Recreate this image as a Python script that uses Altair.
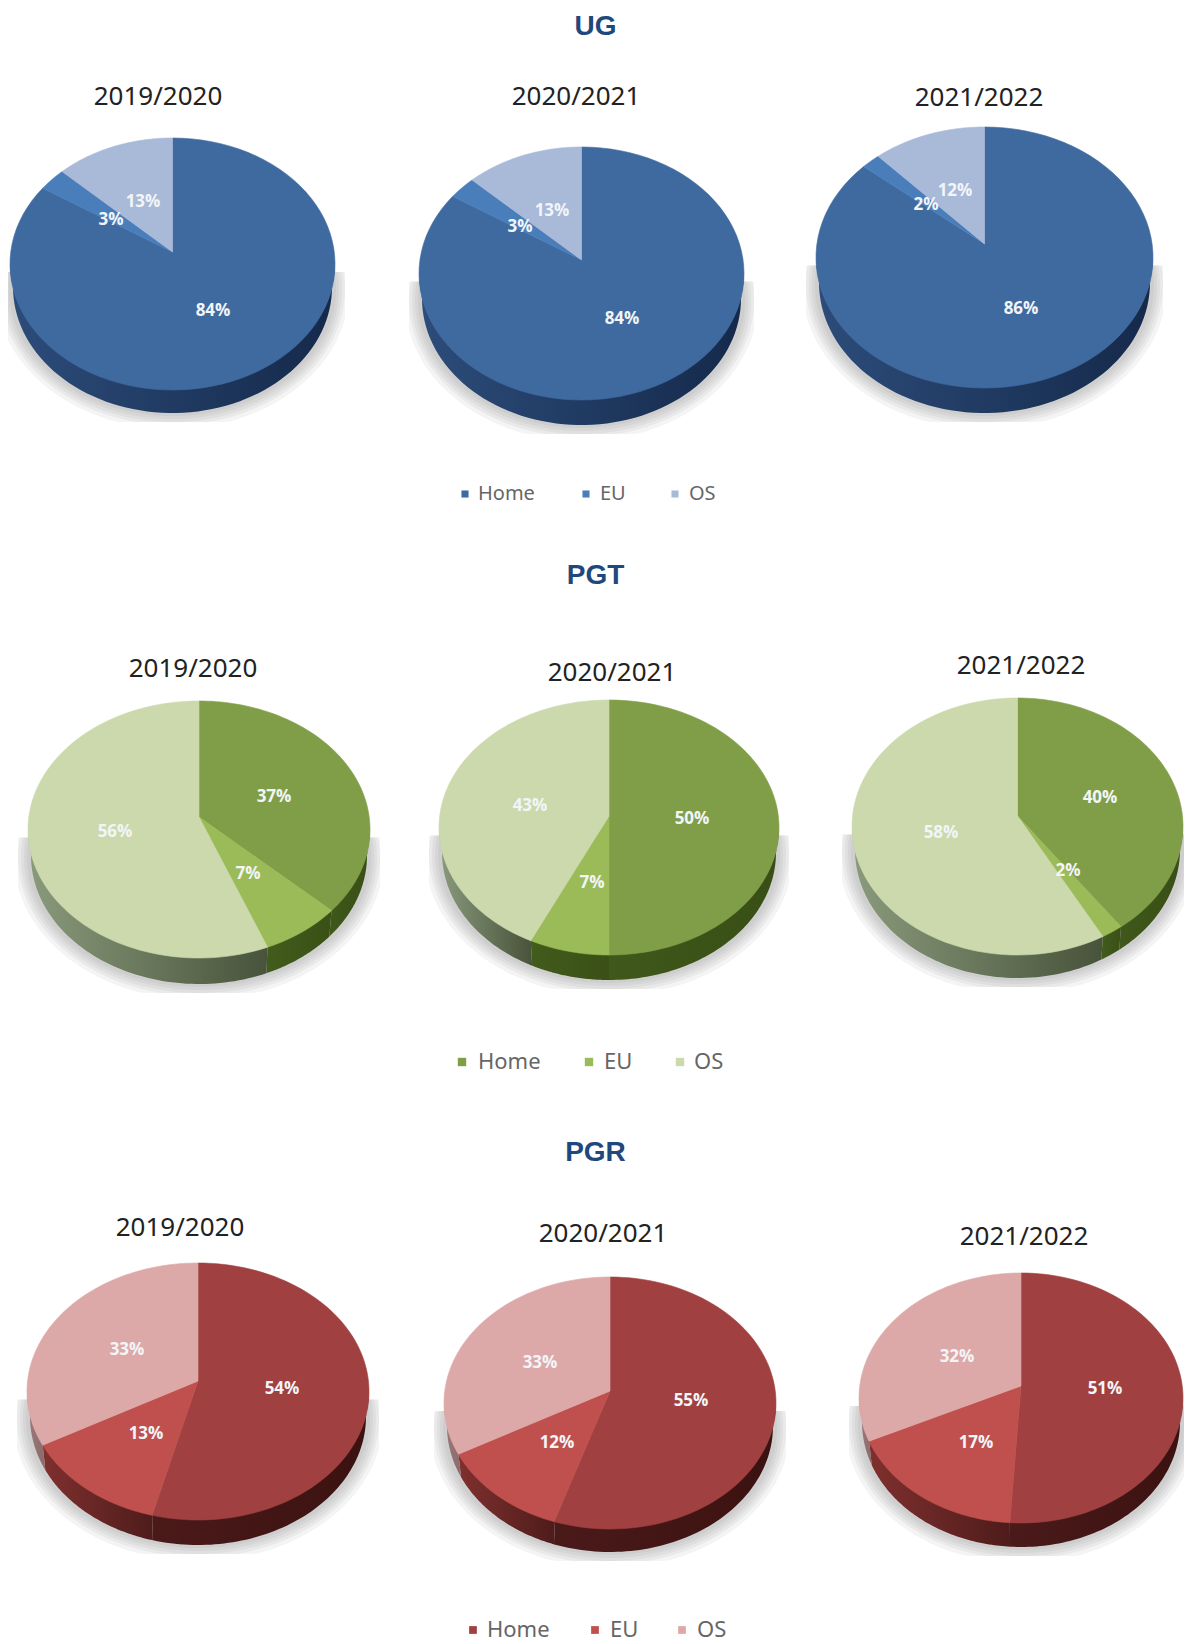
import numpy as np
import pandas as pd
import altair as alt

# ---- values ----
SECTIONS = ["UG", "PGT", "PGR"]
YEARS = ["2019/2020", "2020/2021", "2021/2022"]
CATEGORIES = ["Home", "EU", "OS"]
UG_SHARES = [[84, 3, 13], [84, 3, 13], [86, 2, 12]]
PGT_SHARES = [[37, 7, 56], [50, 7, 43], [40, 2, 58]]
PGR_SHARES = [[54, 13, 33], [55, 12, 33], [51, 17, 32]]
SHARES = [UG_SHARES, PGT_SHARES, PGR_SHARES]

# ---- styles ----
TOP_COLORS = [["#3f6a9f", "#4a7ebb", "#a9b9d8"],
              ["#809e48", "#9bbb59", "#cbd9ad"],
              ["#a04040", "#c0504d", "#dda9a8"]]
WALL_COLORS = [[("#2c4c7a", "#15294a"), ("#2c4c7a", "#2c4c7a"), ("#6f7f9c", "#6f7f9c")],
               [("#40581a", "#384e16"), ("#425c1c", "#3a5016"), ("#8a9a7c", "#47533a")],
               [("#4a1a19", "#3b1211"), ("#7f302e", "#4e1c1b"), ("#9a7a7a", "#8a6a6a")]]

# ---- layout: left, right, top, face bottom, wall bottom, apex y ----
PIE_BOX = [[(10, 335, 138, 390, 413, 252), (419, 744, 147, 400, 425, 260), (816, 1153, 127, 388, 413, 244)],
           [(28, 370, 701, 958, 984, 817), (439, 779, 700, 955, 980, 816), (852, 1183, 698, 955, 978, 816)],
           [(27, 369, 1263, 1520, 1545, 1381), (444, 776, 1277, 1529, 1552, 1391), (859, 1183, 1273, 1523, 1547, 1386)]]
SECTION_TITLE_Y = [27, 576, 1153]
YEAR_XY = [[(158, 97), (576, 97), (979, 98)],
           [(193, 669), (612, 673), (1021, 666)],
           [(180, 1228), (603, 1234), (1024, 1237)]]
LABEL_XY = [[[(213, 311), (111, 220), (143, 202)], [(622, 319), (520, 227), (552, 211)], [(1021, 309), (926, 205), (955, 191)]],
            [[(274, 797), (248, 874), (115, 832)], [(692, 819), (592, 883), (530, 806)], [(1100, 798), (1068, 871), (941, 833)]],
            [[(282, 1389), (146, 1434), (127, 1350)], [(691, 1401), (557, 1443), (540, 1363)], [(1105, 1389), (976, 1443), (957, 1357)]]]
LEGEND_Y = [494, 1062, 1630]
LEGEND_SIZE = [20, 22, 22]
LEGEND_SWATCH = [50, 70, 60]
LEGEND_SWATCH_X = [[465, 586, 675], [462, 589, 680], [473, 595, 682]]
LEGEND_TEXT_X = [[478, 600, 689], [478, 604, 694], [487, 610, 697]]

W, H = 1176, 1636
X = alt.X("x:Q", axis=None, scale=alt.Scale(domain=[8, 8 + W], range=[0, W], nice=False, zero=False))
Y = alt.Y("y:Q", axis=None, scale=alt.Scale(domain=[8, 8 + H], range=[0, H], nice=False, zero=False))


def poly(xs, ys, fill, opacity=1.0, edge=True):
    df = pd.DataFrame({"x": np.round(xs, 2), "y": np.round(ys, 2), "i": np.arange(len(xs))})
    kw = dict(interpolate="linear-closed", fill=fill, clip=False)
    if edge and isinstance(fill, str):
        kw.update(stroke=fill, strokeWidth=0.6)
    elif edge:
        kw.update(strokeWidth=0)
    else:
        kw.update(strokeWidth=0, fillOpacity=opacity)
    return alt.Chart(df).mark_line(**kw).encode(x=X, y=Y, order=alt.Order("i:Q"))


def hgrad(c1, c2):
    return alt.Gradient(gradient="linear", x1=0, x2=1, y1=0, y2=0,
                        stops=[alt.GradientStop(offset=0, color=c1), alt.GradientStop(offset=1, color=c2)])


def rim_param(true_angle, rx, ry, dy):
    """Where a slice edge, drawn from the off-centre apex at its true angle, meets the rim."""
    dx_ray, dy_ray = np.sin(true_angle), -(ry / rx) * np.cos(true_angle)
    A = (dx_ray / rx) ** 2 + (dy_ray / ry) ** 2
    B = 2 * dy * dy_ray / ry ** 2
    C = (dy / ry) ** 2 - 1
    r = (-B + np.sqrt(B * B - 4 * A * C)) / (2 * A)
    px, py = r * dx_ray, dy + r * dy_ray
    return np.mod(np.arctan2(px / rx, -py / ry), 2 * np.pi)


layers = []
for s in range(3):
    for p in range(3):
        left, right, top, fbot, wbot, apex = PIE_BOX[s][p]
        cx, cy = (left + right) / 2, (top + fbot) / 2
        rx, ry = (right - left) / 2, (fbot - top) / 2
        depth = wbot - fbot

        # soft cast shadow, cut off like the pasted picture
        for grow in (14, 10, 7, 4, 1):
            t = np.linspace(0, 2 * np.pi, 160)
            sx = cx + (rx + grow) * np.sin(t)
            sy = cy + depth + 2 - (ry + grow) * np.cos(t)
            sx = np.clip(sx, left - 10, right + 10)
            sy = np.clip(sy, cy + 8, wbot + 9)
            layers.append(poly(sx, sy, "#707070", opacity=0.08, edge=False))

        cum = np.cumsum(SHARES[s][p]) / 100 * 2 * np.pi
        edges = [0.0] + [float(rim_param(a, rx, ry, apex - cy)) for a in cum[:-1]] + [2 * np.pi]

        # walls (the lower rim is a little narrower, as in the perspective view)
        for k in range(3):
            a = max(edges[k], np.pi / 2)
            b = min(edges[k + 1], 3 * np.pi / 2)
            if b <= a:
                continue
            t = np.linspace(a, b, 70)
            wx = np.concatenate([cx + rx * np.sin(t), (cx + (rx - 3) * np.sin(t))[::-1]])
            wy = np.concatenate([cy - ry * np.cos(t) - 1, (cy - ry * np.cos(t))[::-1] + depth])
            c1, c2 = WALL_COLORS[s][k]
            fill = c1 if c1 == c2 else hgrad(c1, c2)
            layers.append(poly(wx, wy, fill))

        # top faces
        for k in range(3):
            t = np.linspace(edges[k], edges[k + 1], 90)
            fx = np.concatenate([[cx], cx + rx * np.sin(t)])
            fy = np.concatenate([[apex], cy - ry * np.cos(t)])
            layers.append(poly(fx, fy, TOP_COLORS[s][k]))

# percentage labels
lab = pd.DataFrame([
    {"x": LABEL_XY[s][p][k][0], "y": LABEL_XY[s][p][k][1], "t": f"{SHARES[s][p][k]}%"}
    for s in range(3) for p in range(3) for k in range(3)])
layers.append(alt.Chart(lab).mark_text(font="Open Sans", fontWeight="bold", fontSize=17, color="#f2f5f8",
                                       align="center", baseline="middle").encode(x=X, y=Y, text="t:N"))

# year titles
yr = pd.DataFrame([{"x": YEAR_XY[s][p][0], "y": YEAR_XY[s][p][1], "t": YEARS[p]}
                   for s in range(3) for p in range(3)])
layers.append(alt.Chart(yr).mark_text(font="Noto Sans", fontSize=26, color="#222222",
                                      align="center", baseline="middle").encode(x=X, y=Y, text="t:N"))

# section titles
sec = pd.DataFrame({"x": [595.5] * 3, "y": SECTION_TITLE_Y, "t": SECTIONS})
layers.append(alt.Chart(sec).mark_text(font="Liberation Sans", fontWeight="bold", fontSize=28, color="#1f497d",
                                       align="center", baseline="middle").encode(x=X, y=Y, text="t:N"))

# legends
for s in range(3):
    for k in range(3):
        sw = pd.DataFrame({"x": [LEGEND_SWATCH_X[s][k]], "y": [LEGEND_Y[s]]})
        layers.append(alt.Chart(sw).mark_square(size=LEGEND_SWATCH[s], filled=True, color=TOP_COLORS[s][k],
                                                opacity=1).encode(x=X, y=Y))
    leg = pd.DataFrame({"x": LEGEND_TEXT_X[s], "y": [LEGEND_Y[s]] * 3, "t": CATEGORIES})
    layers.append(alt.Chart(leg).mark_text(font="Noto Sans", fontSize=LEGEND_SIZE[s], color="#666666",
                                           align="left", baseline="middle").encode(x=X, y=Y, text="t:N"))

chart = alt.layer(*layers).properties(width=W, height=H, padding=0, background="white",
                                      autosize=alt.AutoSizeParams(type="none")).configure_view(strokeWidth=0)

chart.save("out.html", embed_options={"renderer": "svg", "actions": False})
